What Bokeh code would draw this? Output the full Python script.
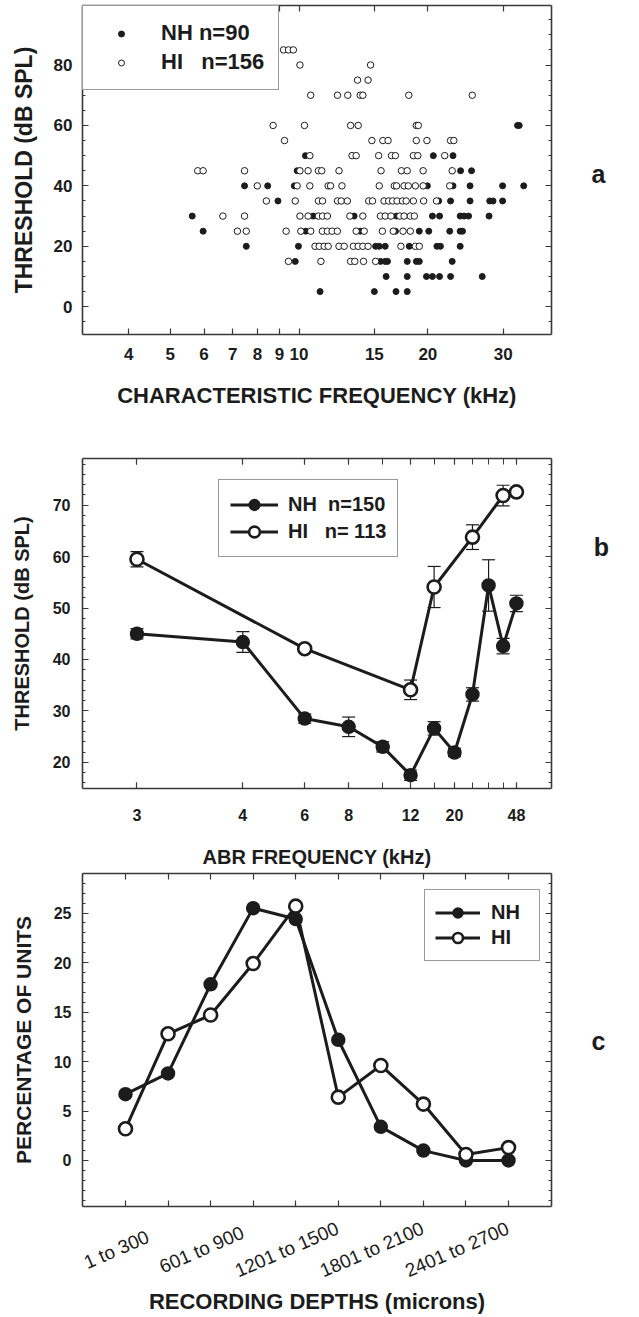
from bokeh.plotting import figure
from bokeh.layouts import column, row
from bokeh.models import (LogAxis, LinearAxis, CategoricalAxis, FixedTicker, SingleIntervalTicker,
                          Legend, LegendItem, ColumnDataSource, FactorRange, Range1d)
from bokeh.core.properties import value
from bokeh.embed import file_html
from bokeh.resources import INLINE

FONT = "Liberation Sans"
INK = "#1c1c1c"
FRAME = "#383838"

# ---------------- panel a : unit thresholds vs characteristic frequency ----------------
cf_ticks = [4, 5, 6, 7, 8, 9, 10, 15, 20, 30]

nh_cf = [
    32.4, 32.7,
    10.35, 20.6, 22.9,
    9.9, 23.85, 25.3,
    7.46, 8.45, 9.75, 19.95, 22.9, 25.1, 29.9, 33.5,
    8.93, 21.2, 22.6, 25.1, 27.9, 28.4, 29.9,
    5.63, 10.8, 13.45, 16.9, 20.5, 21.3, 23.8, 24.3, 24.9, 27.8,
    5.97, 10.37, 13.9, 16.8, 19.1, 20.1, 22.5, 23.8, 24.1,
    7.53, 9.97, 15.1, 15.4, 15.9, 18.1, 21.0, 21.4, 23.8,
    9.8, 15.5, 15.9, 16.1, 17.9, 18.8, 19.1, 22.8,
    15.98, 17.9, 19.85, 20.5, 21.3, 22.6, 26.8,
    11.2, 15.0, 16.85, 17.9,
]
nh_thr = [
    60, 60,
    50, 50, 50,
    45, 45, 45,
    40, 40, 40, 40, 40, 40, 40, 40,
    35, 35, 35, 35, 35, 35, 35,
    30, 30, 30, 30, 30, 30, 30, 30, 30, 30,
    25, 25, 25, 25, 25, 25, 25, 25, 25,
    20, 20, 20, 20, 20, 20, 20, 20, 20,
    15, 15, 15, 15, 15, 15, 15, 15,
    10, 10, 10, 10, 10, 10, 10,
    5, 5, 5, 5,
]
hi_cf = [
    9.2, 9.45, 9.7,
    10.05, 14.7,
    13.7, 14.5,
    10.65, 12.3, 13.0, 13.9, 14.1, 18.05, 25.4,
    8.7, 10.3, 13.2, 13.75, 18.8, 19.0,
    9.25, 14.8, 15.7, 16.15, 18.8, 19.9, 22.6, 23.0,
    10.6, 13.3, 13.6, 15.35, 16.45, 16.8, 18.5, 18.95, 21.9,
    5.8, 5.97, 7.46, 10.05, 10.5, 11.1, 11.3, 12.4, 15.55, 17.35, 17.9, 19.5, 22.8,
    7.99, 9.9, 10.6, 11.7, 11.85, 12.6, 15.4, 16.7, 16.9, 17.6, 18.0, 18.7, 19.5, 22.5,
    8.39, 9.8, 11.1, 11.35, 12.3, 12.55, 12.97, 14.55, 14.85, 15.8, 16.2, 16.55, 16.95,
    17.45, 17.8, 18.5, 19.55, 20.95,
    6.64, 7.46, 10.05, 10.5, 11.1, 11.35, 11.65, 13.15, 14.1, 15.5, 15.9, 16.4, 17.2,
    17.6, 18.2, 18.6,
    7.18, 7.53, 9.33, 10.1, 10.65, 11.34, 11.65, 11.95, 12.29, 13.6, 14.2, 15.66, 16.6,
    17.5, 18.2,
    10.9, 11.15, 11.45, 11.7, 12.4, 12.75, 13.4, 13.75, 14.1, 14.5, 17.3, 18.7, 19.1,
    9.45, 11.25, 13.2, 13.5, 14.15, 15.1,
]
hi_thr = [
    85, 85, 85,
    80, 80,
    75, 75,
    70, 70, 70, 70, 70, 70, 70,
    60, 60, 60, 60, 60, 60,
    55, 55, 55, 55, 55, 55, 55, 55,
    50, 50, 50, 50, 50, 50, 50, 50, 50,
    45, 45, 45, 45, 45, 45, 45, 45, 45, 45, 45, 45, 45,
    40, 40, 40, 40, 40, 40, 40, 40, 40, 40, 40, 40, 40, 40,
    35, 35, 35, 35, 35, 35, 35, 35, 35, 35, 35, 35, 35,
    35, 35, 35, 35, 35,
    30, 30, 30, 30, 30, 30, 30, 30, 30, 30, 30, 30, 30,
    30, 30, 30,
    25, 25, 25, 25, 25, 25, 25, 25, 25, 25, 25, 25, 25,
    25, 25,
    20, 20, 20, 20, 20, 20, 20, 20, 20, 20, 20, 20, 20,
    15, 15, 15, 15, 15, 15,
]

# ---------------- panel b : ABR thresholds ----------------
abr_freq = [3, 4, 6, 8, 10, 12, 16, 20, 24, 32, 40, 48]
abr_labeled = [3, 4, 6, 8, 12, 20, 48]
nh_abr = [45.0, 43.4, 28.5, 26.9, 23.0, 17.5, 26.6, 21.9, 33.2, 54.4, 42.6, 50.9]
nh_abr_sem = [1.0, 2.0, 0.9, 1.9, 1.0, 1.0, 1.3, 0.8, 1.3, 5.0, 1.5, 1.6]
hi_abr_freq = [3, 6, 12, 16, 24, 40, 48]
hi_abr = [59.5, 42.1, 34.1, 54.1, 63.8, 71.9, 72.6]
hi_abr_sem = [1.5, 0.7, 1.9, 4.0, 2.4, 2.0, 0.7]

# ---------------- panel c : recording depths ----------------
depth_bins = ["1 to 300", "301 to 600", "601 to 900", "901 to 1200", "1201 to 1500",
              "1501 to 1800", "1801 to 2100", "2101 to 2400", "2401 to 2700", "2701 to 3000"]
depth_labeled = ["1 to 300", "601 to 900", "1201 to 1500", "1801 to 2100", "2401 to 2700"]
nh_pct = [6.7, 8.8, 17.8, 25.5, 24.4, 12.2, 3.4, 1.0, 0.0, 0.0]
hi_pct = [3.2, 12.8, 14.7, 19.9, 25.7, 6.4, 9.6, 5.7, 0.6, 1.3]

panel_letters = ["a", "b", "c"]


def style_axis(ax, tick_size="16px", hide=False):
    ax.axis_line_color = FRAME
    ax.axis_line_width = 1.6
    ax.major_tick_line_color = FRAME
    ax.minor_tick_line_color = FRAME
    ax.major_tick_line_width = 1.2
    ax.minor_tick_line_width = 1.0
    ax.major_tick_in = 6
    ax.major_tick_out = 0
    ax.minor_tick_in = 3
    ax.minor_tick_out = 0
    ax.major_label_text_font = FONT
    ax.major_label_text_font_style = "bold"
    ax.major_label_text_font_size = tick_size
    ax.major_label_text_color = INK
    ax.axis_label_text_font = FONT
    ax.axis_label_text_font_style = "bold"
    ax.axis_label_text_color = INK
    if hide:
        ax.major_label_text_font_size = "1px"
        ax.major_label_text_color = None
        ax.major_label_standoff = 0
        ax.axis_label = None


def base_fig(**kw):
    p = figure(output_backend="svg", toolbar_location=None, background_fill_color="white",
               border_fill_color="white", outline_line_color=None, **kw)
    p.grid.visible = False
    return p


LEFT_W = 579

# ======================= panel a =======================
pa = base_fig(width=LEFT_W, height=430, x_axis_type="log", x_range=(3.12, 38.9), y_range=(-9.2, 99.7),
              min_border_left=82, min_border_right=28, min_border_top=5, min_border_bottom=96)
cf_ticker = FixedTicker(ticks=cf_ticks, minor_ticks=[])
ya_ticker = SingleIntervalTicker(interval=20, num_minor_ticks=4)
xa = pa.xaxis[0]
xa.ticker = cf_ticker
xa.major_label_overrides = {t: str(t) for t in cf_ticks}
style_axis(xa, "17px")
xa.major_label_standoff = 13
xa.axis_label = "CHARACTERISTIC FREQUENCY (kHz)"
xa.axis_label_text_font_size = "22px"
xa.axis_label_standoff = 20
ya = pa.yaxis[0]
ya.ticker = ya_ticker
style_axis(ya, "17px")
ya.major_label_standoff = 10
ya.axis_label = "THRESHOLD (dB SPL)"
ya.axis_label_text_font_size = "23px"
ya.axis_label_standoff = 14
ax_top = LogAxis(ticker=cf_ticker)
style_axis(ax_top, hide=True)
pa.add_layout(ax_top, "above")
ax_right = LinearAxis(ticker=ya_ticker)
style_axis(ax_right, hide=True)
pa.add_layout(ax_right, "right")

r_nh_a = pa.scatter(nh_cf, nh_thr, marker="circle", size=6, fill_color=INK, line_color=INK, line_width=1)
r_hi_a = pa.scatter(hi_cf, hi_thr, marker="circle", size=6.5, fill_color="white", line_color=INK, line_width=1)

leg_a = Legend(items=[LegendItem(label=value("NH n=90"), renderers=[r_nh_a]),
                      LegendItem(label=value("HI\u00a0\u00a0\u00a0n=156"), renderers=[r_hi_a])],
               location="top_left", margin=0, padding=14, spacing=3,
               glyph_width=48, glyph_height=15, label_height=25, label_standoff=16,
               label_text_font=FONT, label_text_font_style="bold", label_text_font_size="22px",
               label_text_color=INK, border_line_color=FRAME, border_line_width=1.5,
               background_fill_color="white", background_fill_alpha=1.0)
pa.add_layout(leg_a)

# ======================= panel b =======================
pb = base_fig(width=LEFT_W, height=440, x_axis_type="log", x_range=(0.70, 15.1), y_range=(14.9, 79.1),
              min_border_left=82, min_border_right=25, min_border_top=28, min_border_bottom=82)
nh_pos = [abr_freq.index(f) + 1 for f in abr_freq]
hi_pos = [abr_freq.index(f) + 1 for f in hi_abr_freq]
lab_pos = [abr_freq.index(f) + 1 for f in abr_labeled]
xb_ticker = FixedTicker(ticks=lab_pos, minor_ticks=nh_pos)
yb_ticker = SingleIntervalTicker(interval=10, num_minor_ticks=5)
xb = pb.xaxis[0]
xb.ticker = xb_ticker
xb.major_label_overrides = {pos: str(f) for pos, f in zip(lab_pos, abr_labeled)}
style_axis(xb, "16px")
xb.minor_tick_in = 6
xb.major_label_standoff = 20
xb.axis_label = "ABR FREQUENCY (kHz)"
xb.axis_label_text_font_size = "20px"
xb.axis_label_standoff = 22
yb = pb.yaxis[0]
yb.ticker = yb_ticker
style_axis(yb, "16px")
yb.major_label_standoff = 12
yb.axis_label = "THRESHOLD (dB SPL)"
yb.axis_label_text_font_size = "20px"
yb.axis_label_standoff = 17
bt = LogAxis(ticker=xb_ticker)
style_axis(bt, hide=True)
bt.minor_tick_in = 6
pb.add_layout(bt, "above")
br = LinearAxis(ticker=yb_ticker)
style_axis(br, hide=True)
pb.add_layout(br, "right")

nh_lo = [y - e for y, e in zip(nh_abr, nh_abr_sem)]
nh_hi = [y + e for y, e in zip(nh_abr, nh_abr_sem)]
hi_lo = [y - e for y, e in zip(hi_abr, hi_abr_sem)]
hi_hi = [y + e for y, e in zip(hi_abr, hi_abr_sem)]
for xs, lo, hi in ((nh_pos, nh_lo, nh_hi), (hi_pos, hi_lo, hi_hi)):
    pb.segment(xs, lo, xs, hi, line_color=INK, line_width=1.2)
    pb.scatter(xs, lo, marker="dash", size=13, line_color=INK, line_width=1.2)
    pb.scatter(xs, hi, marker="dash", size=13, line_color=INK, line_width=1.2)

l_hi_b = pb.line(hi_pos, hi_abr, line_color=INK, line_width=3)
l_nh_b = pb.line(nh_pos, nh_abr, line_color=INK, line_width=3)
s_nh_b = pb.scatter(nh_pos, nh_abr, marker="circle", size=13, fill_color=INK, line_color=INK, line_width=1.5)
s_hi_b = pb.scatter(hi_pos, hi_abr, marker="circle", size=13, fill_color="white", line_color=INK, line_width=2.6)

leg_b = Legend(items=[LegendItem(label=value("NH  n=150"), renderers=[l_nh_b, s_nh_b]),
                      LegendItem(label=value("HI\u00a0\u00a0\u00a0n=\u00a0113"), renderers=[l_hi_b, s_hi_b])],
               location=(136, 231), margin=0, padding=11, spacing=0,
               glyph_width=48, glyph_height=27, label_height=27, label_standoff=10,
               label_text_font=FONT, label_text_font_style="bold", label_text_font_size="20px",
               label_text_color=INK, border_line_color=FRAME, border_line_width=1.5,
               background_fill_color="white", background_fill_alpha=1.0)
pb.add_layout(leg_b)

# ======================= panel c =======================
depth_range = FactorRange(factors=depth_bins, range_padding=0.102, range_padding_units="percent")
pc = base_fig(width=LEFT_W, height=340, x_range=depth_range, y_range=(-4.65, 29.0),
              min_border_left=79, min_border_right=25, min_border_top=3, min_border_bottom=4)
yc_ticker = SingleIntervalTicker(interval=5, num_minor_ticks=5)
xc = pc.xaxis[0]
style_axis(xc, hide=True)
yc = pc.yaxis[0]
yc.ticker = yc_ticker
style_axis(yc, "16px")
yc.major_label_standoff = 11
yc.axis_label = "PERCENTAGE OF UNITS"
yc.axis_label_text_font_size = "21px"
yc.axis_label_standoff = 16
ct = CategoricalAxis()
style_axis(ct, hide=True)
pc.add_layout(ct, "above")
cr = LinearAxis(ticker=yc_ticker)
style_axis(cr, hide=True)
pc.add_layout(cr, "right")

l_nh_c = pc.line(depth_bins, nh_pct, line_color=INK, line_width=3)
l_hi_c = pc.line(depth_bins, hi_pct, line_color=INK, line_width=3)
s_nh_c = pc.scatter(depth_bins, nh_pct, marker="circle", size=13, fill_color=INK, line_color=INK, line_width=1.5)
s_hi_c = pc.scatter(depth_bins, hi_pct, marker="circle", size=13, fill_color="white", line_color=INK, line_width=2.6)

leg_c = Legend(items=[LegendItem(label=value("NH"), renderers=[l_nh_c, s_nh_c]),
                      LegendItem(label=value("HI"), renderers=[l_hi_c, s_hi_c])],
               location=(342, 245), margin=0, padding=10, spacing=0,
               glyph_width=45, glyph_height=25, label_height=25, label_standoff=11, label_width=38,
               label_text_font=FONT, label_text_font_style="bold", label_text_font_size="20px",
               label_text_color=INK, border_line_color=FRAME, border_line_width=1.5,
               background_fill_color="white", background_fill_alpha=1.0)
pc.add_layout(leg_c)

# slanted depth labels and x-axis title of panel c (strip under the frame, same x scale)
pcl = base_fig(width=LEFT_W, height=107, x_range=depth_range, y_range=(0, 1),
               min_border_left=79, min_border_right=25, min_border_top=0, min_border_bottom=36)
pcl.yaxis.visible = False
xl = pcl.xaxis[0]
style_axis(xl, hide=True)
xl.axis_line_color = None
xl.major_tick_line_color = None
xl.minor_tick_line_color = None
xl.axis_label = "RECORDING DEPTHS (microns)"
xl.axis_label_text_font_size = "22px"
xl.axis_label_standoff = 7
lab_src = ColumnDataSource(dict(x=depth_labeled, text=depth_labeled))
pcl.text(x="x", y=0.45, text="text", source=lab_src, angle=0.41, x_offset=-9,
         text_align="center", text_baseline="middle", text_font=value(FONT),
         text_font_size="19px", text_color=INK)

# panel letters in a narrow strip on the right
letters = base_fig(width=639 - LEFT_W, height=1317, x_range=Range1d(LEFT_W, 639), y_range=Range1d(1317, 0),
                   min_border_left=0, min_border_right=0, min_border_top=0, min_border_bottom=0,
                   x_axis_location=None, y_axis_location=None)
let_src = ColumnDataSource(dict(x=[598, 601, 598], y=[173, 546, 1040], text=panel_letters))
letters.text(x="x", y="y", text="text", source=let_src, text_align="center", text_baseline="middle",
             text_font=value(FONT), text_font_style="bold", text_font_size="25px", text_color=INK)

page = row(column(pa, pb, pc, pcl, spacing=0), letters, spacing=0)
open("out.html", "w").write(file_html(page, INLINE))
